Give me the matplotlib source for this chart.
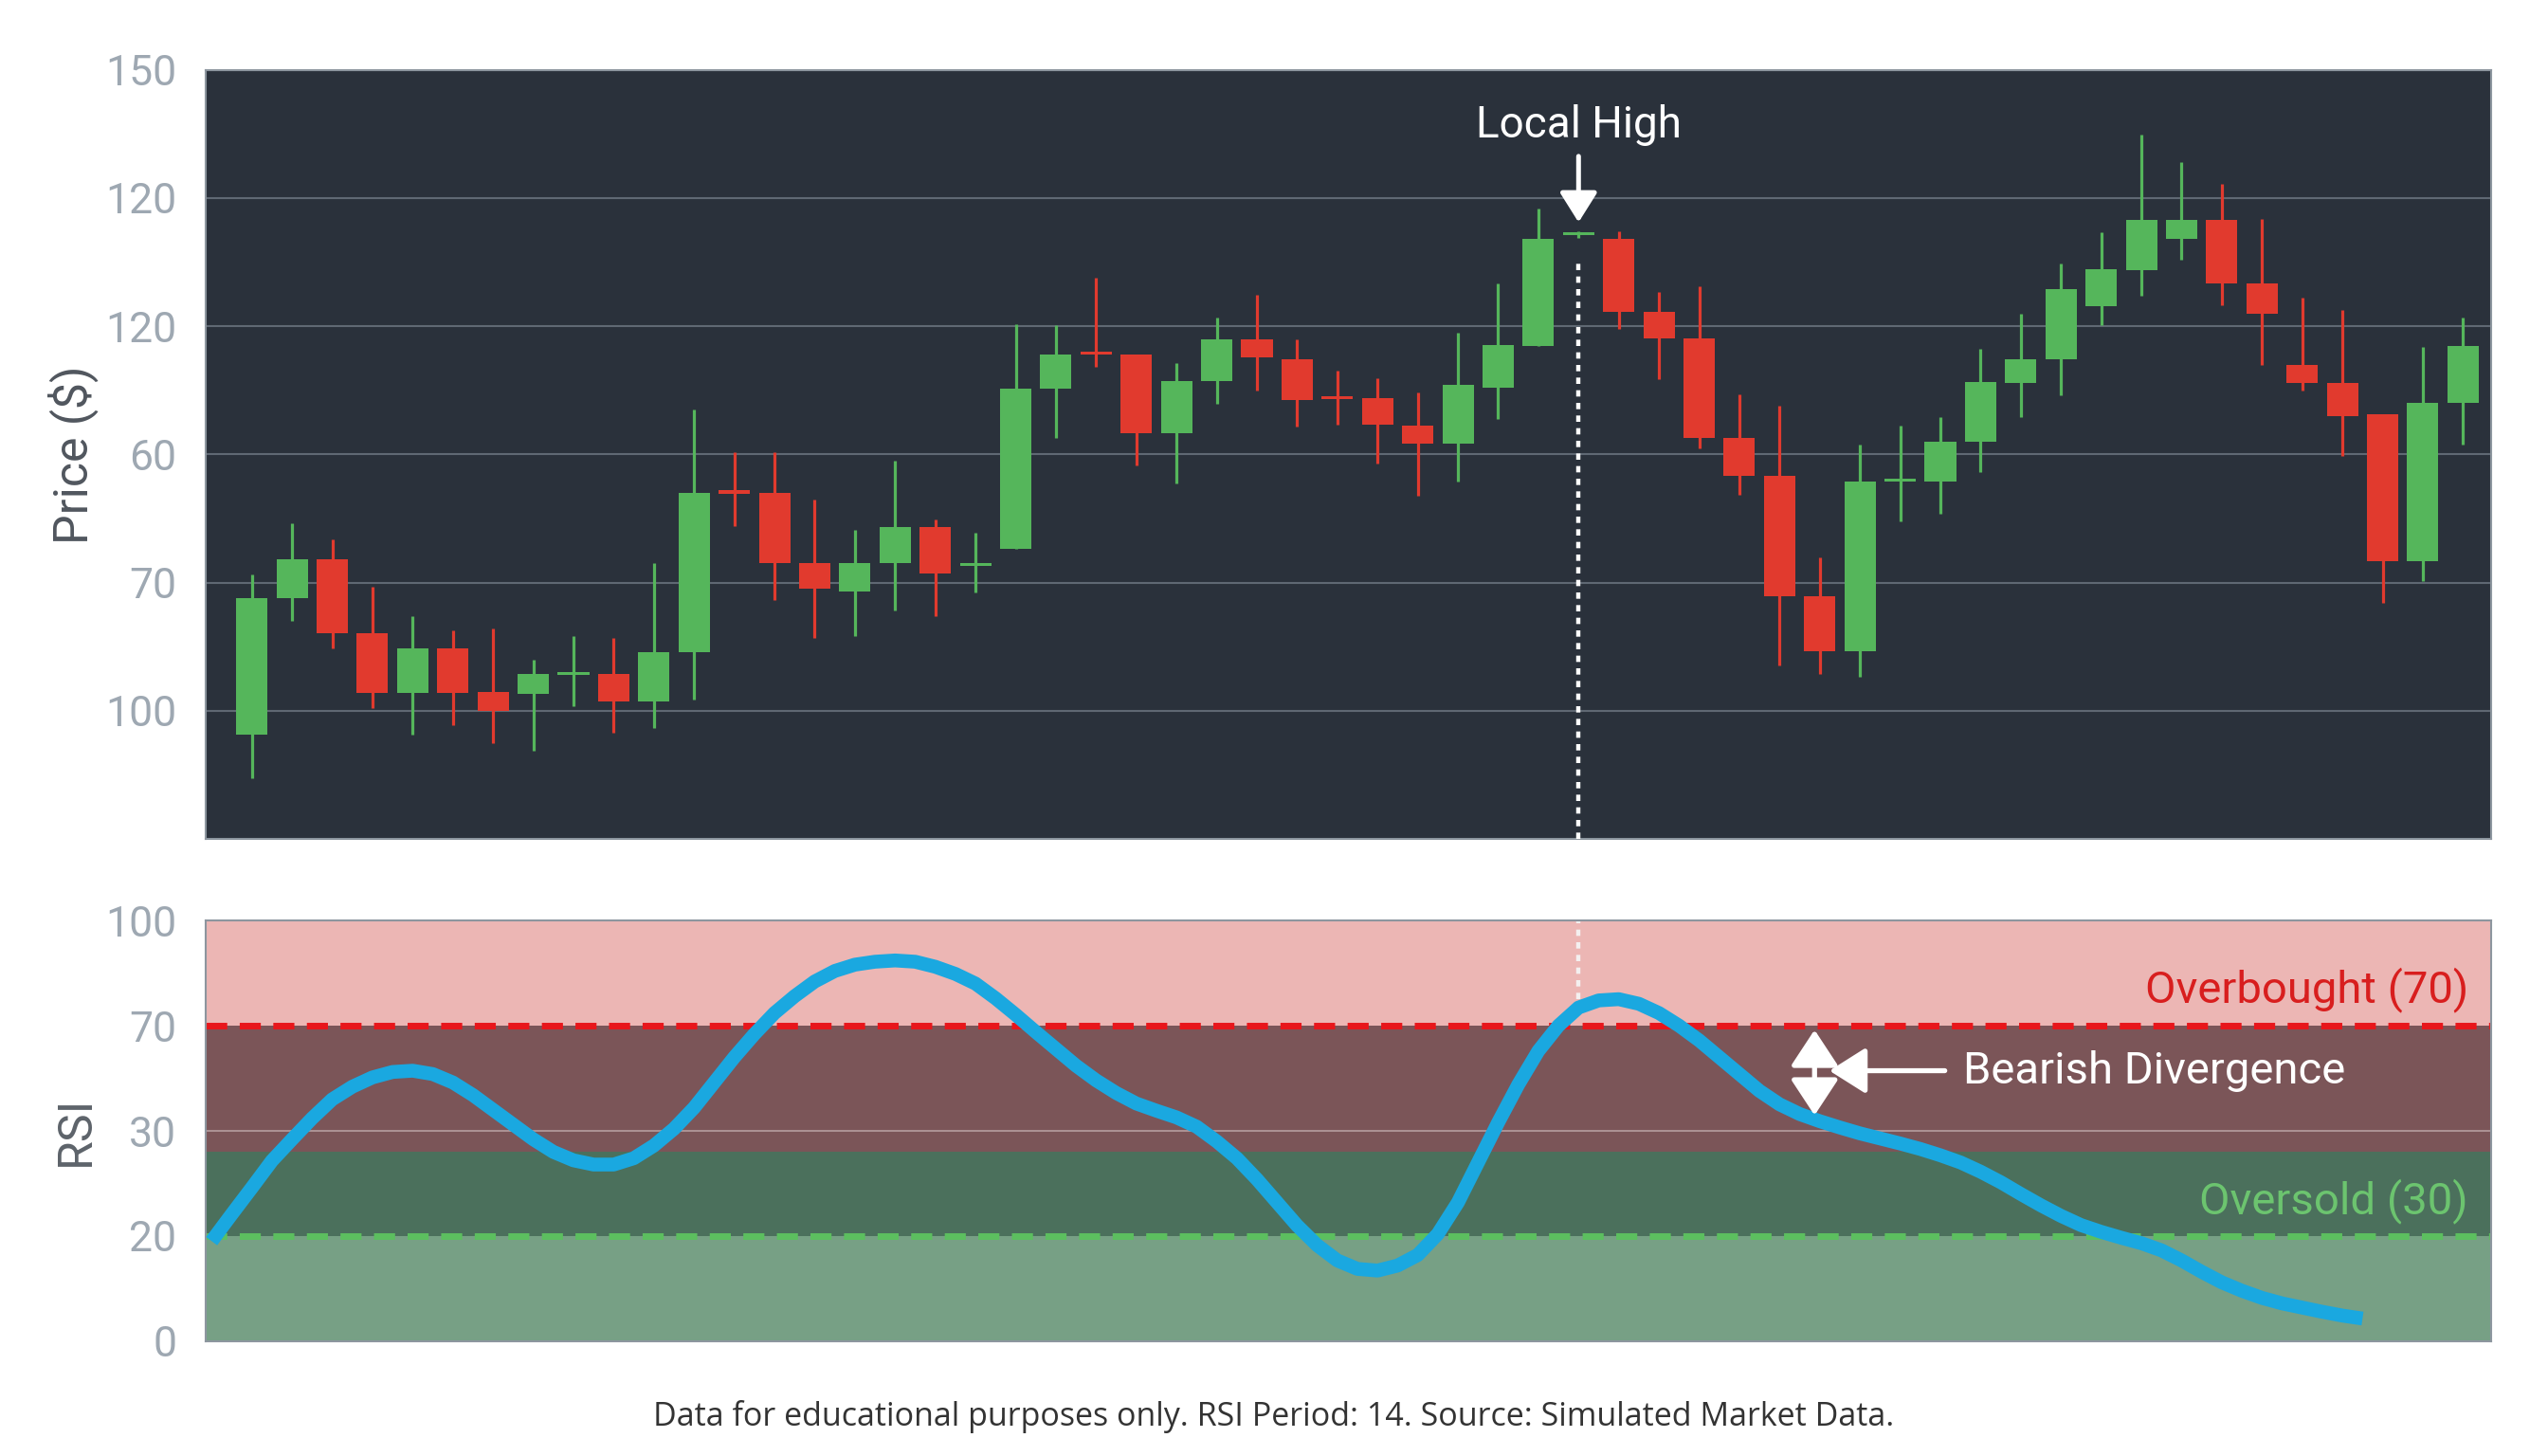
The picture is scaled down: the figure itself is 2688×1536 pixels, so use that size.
import numpy as np
import matplotlib
matplotlib.use('Agg')
from matplotlib import pyplot as plt

plt.rcParams['font.family'] = ['Roboto', 'DejaVu Sans']

# candle data (one entry per bar)
opens = [56.2, 77.5, 83.6, 72.1, 62.8, 69.7, 63.0, 62.6, 65.6, 65.7,
         61.5, 69.2, 94.1, 94.0, 83.0, 78.6, 83.1, 88.6, 82.6, 85.3,
         110.3, 115.7, 115.6, 103.3, 111.4, 117.9, 114.9, 108.8, 108.7, 104.5,
         101.6, 110.4, 116.9, 134.2, 133.6, 122.2, 118.1, 102.5, 96.7, 77.8,
         69.3, 95.7, 95.8, 101.9, 111.1, 114.9, 123.1, 128.7, 133.6, 136.5,
         126.6, 114.0, 111.1, 106.2, 83.4, 108.0]
highs = [81.2, 89.2, 86.7, 79.3, 74.8, 72.5, 72.8, 67.9, 71.6, 71.3,
         83.0, 107.0, 100.3, 100.4, 92.9, 88.2, 99.0, 89.9, 87.8, 120.3,
         120.2, 127.5, 115.6, 114.3, 121.3, 124.9, 117.9, 113.1, 111.9, 109.7,
         119.0, 126.6, 138.4, 134.8, 134.8, 125.3, 126.2, 109.4, 107.6, 84.0,
         101.5, 104.5, 105.8, 116.4, 121.9, 129.8, 134.7, 149.9, 145.6, 142.2,
         136.7, 124.5, 122.5, 106.2, 116.8, 121.4]
lows = [49.4, 74.0, 69.7, 60.4, 56.2, 57.7, 55.0, 53.7, 60.7, 56.5,
        57.3, 61.8, 88.8, 77.3, 71.4, 71.7, 75.7, 74.8, 78.5, 85.3,
        102.5, 113.6, 98.2, 95.4, 107.9, 109.9, 104.3, 104.7, 98.6, 93.5,
        95.8, 105.5, 116.9, 133.7, 119.6, 111.8, 100.9, 93.7, 67.0, 65.8,
        65.3, 89.5, 90.8, 97.3, 105.8, 109.2, 120.2, 124.8, 130.4, 123.2,
        114.0, 110.0, 99.7, 76.8, 80.3, 101.5]
closes = [77.6, 83.6, 72.1, 62.8, 69.7, 62.8, 60.0, 65.7, 65.8, 61.5,
          69.2, 94.0, 93.9, 83.0, 79.1, 83.0, 88.6, 81.4, 82.8, 110.3,
          115.6, 115.5, 103.3, 111.4, 117.9, 115.1, 108.5, 108.6, 104.7, 101.6,
          110.8, 117.0, 133.6, 134.4, 122.2, 118.1, 102.5, 96.7, 77.8, 69.3,
          95.8, 95.9, 101.9, 111.3, 114.9, 125.8, 128.9, 136.5, 136.5, 126.6,
          121.9, 111.1, 106.0, 83.4, 108.1, 116.9]

# price axis: the tick labels printed on the chart
price_ticks = [60, 80, 100, 120, 140, 160]
price_ticklabels = ['100', '70', '60', '120', '120', '150']

# RSI read every half bar, starting one bar before the first candle
rsi_start = -1
rsi_step = 0.5
rsi = [23.8, 30.2, 36.5, 42.9, 48.0, 53.0, 57.5, 60.5, 62.7, 64.0,
       64.3, 63.5, 61.5, 58.5, 55.0, 51.5, 48.0, 45.0, 43.0, 42.0,
       42.0, 43.5, 46.5, 50.5, 55.5, 61.5, 67.5, 73.0, 78.0, 82.0,
       85.5, 88.0, 89.5, 90.2, 90.5, 90.2, 89.0, 87.3, 85.0, 81.5,
       77.6, 73.5, 69.5, 65.5, 62.0, 59.0, 56.5, 54.8, 53.2, 51.0,
       47.5, 43.5, 38.5, 33.0, 27.5, 22.8, 19.2, 17.2, 16.8, 18.0,
       20.5, 25.5, 33.0, 42.5, 52.0, 61.0, 69.0, 75.0, 79.3, 81.0,
       81.3, 80.2, 78.0, 75.0, 71.5, 67.5, 63.5, 59.5, 56.3, 54.0,
       52.3, 50.8, 49.4, 48.2, 47.0, 45.7, 44.2, 42.5, 40.3, 37.8,
       35.0, 32.3, 29.8, 27.6, 26.0, 24.6, 23.3, 21.6, 19.2, 16.5,
       14.0, 12.0, 10.3, 9.0, 8.0, 7.0, 6.1, 5.4]
rsi_ticks = [0, 25, 50, 75, 100]
rsi_ticklabels = ['0', '20', '30', '70', '100']
overbought = 75
oversold = 25
local_high_bar = 33

GREEN = '#55b65b'
RED = '#e13a2e'
TICK_COLOR = '#9ea8b2'
SPINE = '#8d969f'

fig = plt.figure(figsize=(26.88, 15.36), dpi=100)
ax = fig.add_axes([0.0807, 0.4238, 0.8970, 0.5283])
ax2 = fig.add_axes([0.0807, 0.0788, 0.8970, 0.2890])

x = np.arange(len(opens))
o = np.array(opens)
c = np.array(closes)
up = c >= o
cols = np.where(up, GREEN, RED)

# candles
ax.set_facecolor('#2a313b')
ax.vlines(x, lows, highs, colors=cols, lw=2.3, zorder=3)
ax.bar(x, np.maximum(np.abs(c - o), 0.5), bottom=np.minimum(o, c),
       width=0.78, color=cols, zorder=4)

ax.set_xlim(-1.15, 55.7)
ax.set_ylim(40, 160)
ax.set_yticks(price_ticks)
ax.set_yticklabels(price_ticklabels)
ax.set_xticks([])
ax.grid(axis='y', color='#5f6873', lw=1.5)
ax.set_axisbelow(True)
ax.tick_params(axis='y', length=0, pad=22, labelsize=32, labelcolor=TICK_COLOR)
ax.set_ylabel('Price ($)', fontsize=36, color='#50565e')
ax.yaxis.set_label_coords(-0.047, 0.5)
for s in ax.spines.values():
    s.set_color(SPINE)
    s.set_linewidth(1.5)

# local high marker
ax.vlines(local_high_bar, 40, 130.6, colors='white', lw=3.2,
          linestyles=(0, (1.5, 1.5)), zorder=5)
ax.annotate('', xy=(local_high_bar, 136.2), xytext=(local_high_bar, 146.5),
            arrowprops=dict(arrowstyle='-|>,head_length=0.35,head_width=0.22',
                            color='white', lw=3.6, mutation_scale=55,
                            shrinkA=0, shrinkB=0), zorder=6)
ax.text(local_high_bar, 151.4, 'Local High', color='white', fontsize=33,
        ha='center', va='center', zorder=6)

# RSI panel
ax2.axhspan(0, oversold, color='#77a085', lw=0)
ax2.axhspan(oversold, 45, color='#4b705c', lw=0)
ax2.axhspan(45, overbought, color='#7b5558', lw=0)
ax2.axhspan(overbought, 100, color='#ecb6b4', lw=0)
ax2.axhline(50, color='#b59ea0', lw=1.2, zorder=1)
ax2.axhline(overbought, color='#e8161b', lw=5, ls=(0, (3.2, 1.9)), zorder=2)
ax2.axhline(oversold, color='#5cbf5f', lw=5, ls=(0, (3.2, 1.9)), zorder=2)
ax2.vlines(local_high_bar, 81.3, 100, colors='#f4f0f0', lw=3.2,
           linestyles=(0, (1.5, 1.5)), zorder=2)

rx = rsi_start + rsi_step * np.arange(len(rsi))
ax2.plot(rx, rsi, color='#1aa8e0', lw=10.5, solid_joinstyle='round',
         solid_capstyle='butt', zorder=3)

ax2.set_xlim(-1.15, 55.7)
ax2.set_ylim(0, 100)
ax2.set_yticks(rsi_ticks)
ax2.set_yticklabels(rsi_ticklabels)
ax2.set_xticks([])
ax2.tick_params(axis='y', length=0, pad=22, labelsize=32, labelcolor=TICK_COLOR)
ax2.set_ylabel('RSI', fontsize=36, color='#5d636a')
ax2.yaxis.set_label_coords(-0.047, 0.5)
for s in ax2.spines.values():
    s.set_color(SPINE)
    s.set_linewidth(1.5)

ax2.text(55.13, 83.6, 'Overbought (70)', color='#d81e1e', fontsize=34,
         ha='right', va='center', zorder=4)
ax2.text(55.13, 33.3, 'Oversold (30)', color='#6cc46f', fontsize=34,
         ha='right', va='center', zorder=4)
ax2.text(42.56, 64.3, 'Bearish Divergence', color='white', fontsize=34,
         ha='left', va='center', zorder=4)
arrow_style = dict(color='white', lw=3.8, mutation_scale=62,
                   shrinkA=0, shrinkB=0)
ax2.annotate('', xy=(38.87, 74), xytext=(38.87, 53.7),
             arrowprops=dict(arrowstyle='<|-|>,head_length=0.38,head_width=0.25',
                             **arrow_style), zorder=5)
ax2.annotate('', xy=(39.24, 64.3), xytext=(42.11, 64.3),
             arrowprops=dict(arrowstyle='-|>,head_length=0.38,head_width=0.24',
                             **arrow_style), zorder=5)

fig.text(0.5, 0.0267,
         'Data for educational purposes only. RSI Period: 14. Source: Simulated Market Data.',
         ha='center', va='center', fontsize=24.5, color='#333333',
         family=['Open Sans', 'DejaVu Sans'])

fig.savefig('out.png', dpi=100, facecolor='white')
